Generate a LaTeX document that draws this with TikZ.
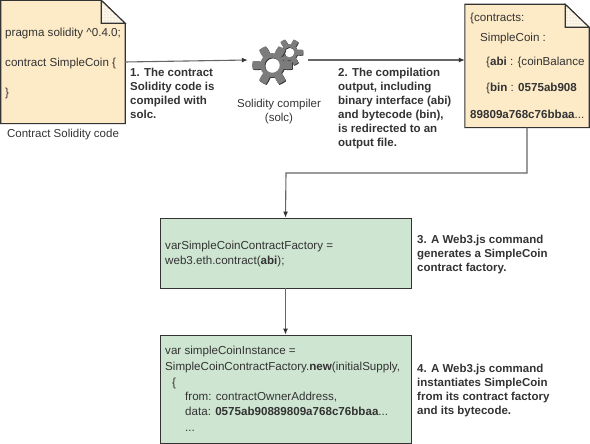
\documentclass[tikz,border=0pt]{standalone}
\usepackage{fontspec}
\setmainfont{Liberation Sans}
\usetikzlibrary{calc, patterns, arrows.meta}
\tikzset{x=1pt,y=1pt}
\definecolor{docyellow}{HTML}{FDEBC8}
\definecolor{boxgreen}{HTML}{CEE5D1}
\definecolor{inkgray}{HTML}{333333}
\definecolor{linegray}{HTML}{666666}
\definecolor{geargray}{HTML}{7C7C7C}
\tikzset{
  docpage/.style={minimum width=124, minimum height=123, inner sep=0pt},
  codebox/.style={draw=inkgray, line width=.8pt, fill=boxgreen, minimum width=251, inner sep=0pt},
  plain/.style={font=\fontsize{11.6}{14}\selectfont, text=inkgray, anchor=base west, inner sep=0pt},
  note/.style={font=\fontsize{11.5}{14}\selectfont\bfseries, text=inkgray, align=left, anchor=north west, inner sep=0pt},
  caption/.style={font=\fontsize{11.5}{14}\selectfont, text=inkgray, align=center, inner sep=0pt},
  wire/.style={draw=linegray, line width=1.1pt, -{Latex[length=6pt,width=5pt,color=inkgray]}},
}
\begin{document}
\begin{tikzpicture}
    \useasboundingbox (0,0) rectangle (590,444);
    % documents
    \node[docpage] (codedoc) at (63,382) {};
    \node[docpage] (outdoc) at (527,378) {};
    \foreach \doc in {codedoc,outdoc} {
      \draw[draw=inkgray, line width=1.1pt, fill=docyellow]
        (\doc.north west) -- ($(\doc.north east)+(-24,0)$) -- ($(\doc.north east)+(0,-23)$)
        -- (\doc.south east) -- (\doc.south west) -- cycle;
      \fill[docyellow!45!white]
        ($(\doc.north east)+(-24,0)$) -- ($(\doc.north east)+(-24,-23)$) -- ($(\doc.north east)+(0,-23)$) -- cycle;
      \fill[pattern=dots, pattern color=inkgray!35]
        ($(\doc.north east)+(-24,0)$) -- ($(\doc.north east)+(-24,-23)$) -- ($(\doc.north east)+(0,-23)$) -- cycle;
      \draw[draw=inkgray, line width=1.1pt]
        ($(\doc.north east)+(-24,0)$) -- ($(\doc.north east)+(-24,-23)$) -- ($(\doc.north east)+(0,-23)$) -- cycle;
    }
    % gears
    \node[minimum size=60, inner sep=0pt] (compiler) at (278,384) {};
    \foreach \cx/\cy/\rad/\gearcol in {290/391/13.5/inkgray, 289.3/391.7/13.5/geargray, 273/378/20/inkgray, 272.2/378.8/20/geargray} {
      \fill[\gearcol, even odd rule, line join=round]
        plot[samples=97, domain=15:375]
          ({\cx+\rad*(0.8+0.2*max(-1,min(1,3*cos(6*\x))))*cos(\x)},{\cy+\rad*(0.8+0.2*max(-1,min(1,3*cos(6*\x))))*sin(\x)}) -- cycle
        (\cx,\cy) circle[radius=\rad*.38];
    }
    % boxes
    \node[codebox, minimum height=70] (factorybox) at (285.5,191) {};
    \node[codebox, minimum height=108] (instancebox) at (285.5,55) {};
    % connectors
    \draw[wire] (codedoc.east) -- (compiler.west);
    \draw[wire] (compiler.east) -- (compiler.east -| outdoc.west);
    \draw[wire] (outdoc.south) |- (286,271) -- (factorybox.north);
    \draw[wire] (factorybox.south) -- (instancebox.north);
    % document texts
    \node[plain] (pragma) at (5,407) {pragma solidity \textasciicircum0.4.0;};
    \node[plain] (contract) at (5,377) {contract SimpleCoin \{};
    \node[plain] (closing) at (5,347) {\}};
    \node[plain] (contracts) at (470,422) {\{contracts:};
    \node[plain] (coinname) at (480,402) {SimpleCoin :};
    \node[plain] (abi) at (486,378) {\{\textbf{abi} : \{coinBalance};
    \node[plain] (bin) at (486,352) {\{\textbf{bin} : \textbf{0575ab908}};
    \node[plain] (bytes) at (470,325) {\textbf{89809a768c76bbaa}...};
    % captions
    \node[caption] (codecap) at (63,309) {Contract Solidity code};
    \node[caption] (compilercap) at (279,332) {Solidity compiler\\(solc)};
    % notes
    \node[note] (noteone) at (130,376) {1. The contract\\Solidity code is\\compiled with\\solc.};
    \node[note] (notetwo) at (338,376) {2. The compilation\\output, including\\binary interface (abi)\\and bytecode (bin),\\is redirected to an\\output file.};
    \node[note] (notethree) at (417,209) {3. A Web3.js command\\generates a SimpleCoin\\contract factory.};
    \node[note] (notefour) at (417,80) {4. A Web3.js command\\instantiates SimpleCoin\\from its contract factory\\and its bytecode.};
    % code texts
    \node[plain] (factoryone) at (165,194) {varSimpleCoinContractFactory =};
    \node[plain] (factorytwo) at (165,179) {web3.eth.contract(\textbf{abi});};
    \node[plain] (instone) at (165,89) {var simpleCoinInstance =};
    \node[plain] (insttwo) at (165,73) {SimpleCoinContractFactory.\textbf{new}(initialSupply,};
    \node[plain] (instthree) at (172,57) {\{};
    \node[plain] (instfour) at (185,43) {from: contractOwnerAddress,};
    \node[plain] (instfive) at (185,28) {data: \textbf{0575ab90889809a768c76bbaa}...};
    \node[plain] (instsix) at (185,12) {...};
\end{tikzpicture}
\end{document}
